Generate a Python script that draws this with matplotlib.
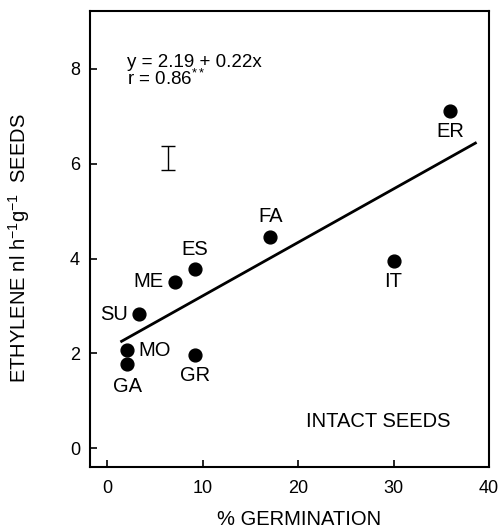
import matplotlib
matplotlib.use("Agg")
import matplotlib.pyplot as plt

plt.rcParams['font.family'] = ['Liberation Sans', 'DejaVu Sans']
plt.rcParams['mathtext.fontset'] = 'custom'
plt.rcParams['mathtext.rm'] = 'Liberation Sans'
plt.rcParams['mathtext.it'] = 'Liberation Sans:italic'

# Data
labels = ['ER', 'FA', 'IT', 'ES', 'ME', 'SU', 'MO', 'GA', 'GR']
germination = [35.9, 17.1, 30.0, 9.2, 7.1, 3.3, 2.1, 2.1, 9.2]
ethylene = [7.12, 4.45, 3.95, 3.78, 3.51, 2.83, 2.07, 1.77, 1.96]

# regression line as drawn
line_x = [1.4, 38.7]
line_y = [2.24, 6.45]

# representative error bar
err_x = 6.4
err_y = 6.12
err_half = 0.26

# label offsets in points: (dx, dy, ha, va)
label_pos = {
    'ER': (0, -8, 'center', 'top'),
    'FA': (0, 8, 'center', 'bottom'),
    'IT': (0, -8, 'center', 'top'),
    'ES': (0, 7, 'center', 'bottom'),
    'ME': (-8, 0, 'right', 'center'),
    'SU': (-8, 0, 'right', 'center'),
    'MO': (8, 0, 'left', 'center'),
    'GA': (0, -9, 'center', 'top'),
    'GR': (0, -8, 'center', 'top'),
}

fig = plt.figure(figsize=(4.99, 5.29), dpi=100)
ax = fig.add_axes([0.180, 0.117, 0.800, 0.862])

ax.plot(line_x, line_y, color='black', lw=2.0, solid_capstyle='butt')
ax.scatter(germination, ethylene, s=85, color='black', zorder=3)
ax.errorbar([err_x], [err_y], yerr=[err_half], fmt='none', ecolor='black',
            elinewidth=1.0, capsize=5, capthick=1.0)

for name, gx, ey in zip(labels, germination, ethylene):
    dx, dy, ha, va = label_pos[name]
    ax.annotate(name, (gx, ey), xytext=(dx, dy), textcoords='offset points',
                ha=ha, va=va, fontsize=14.5)

ax.text(2.1, 7.95, 'y = 2.19 + 0.22x\nr = 0.86$^{**}$', fontsize=13.5,
        ha='left', va='center', linespacing=0.85)
ax.text(28.4, 0.56, 'INTACT SEEDS', fontsize=14.5, ha='center', va='center')

ax.set_xlim(-1.8, 40)
ax.set_ylim(-0.4, 9.22)
ax.set_xticks([0, 10, 20, 30, 40])
ax.set_yticks([0, 2, 4, 6, 8])
ax.tick_params(direction='in', length=5, width=1.2, labelsize=13)
ax.tick_params(axis='x', pad=9)
ax.tick_params(axis='y', pad=7)
for sp in ax.spines.values():
    sp.set_linewidth(1.5)

ax.set_xlabel('% GERMINATION', fontsize=14.5)
ax.xaxis.set_label_coords(0.524, -0.094)
ax.set_ylabel('ETHYLENE nl h$^{-1}$g$^{-1}$  SEEDS', fontsize=14.5)
ax.yaxis.set_label_coords(-0.145, 0.48)

fig.savefig('out.png', dpi=100)
